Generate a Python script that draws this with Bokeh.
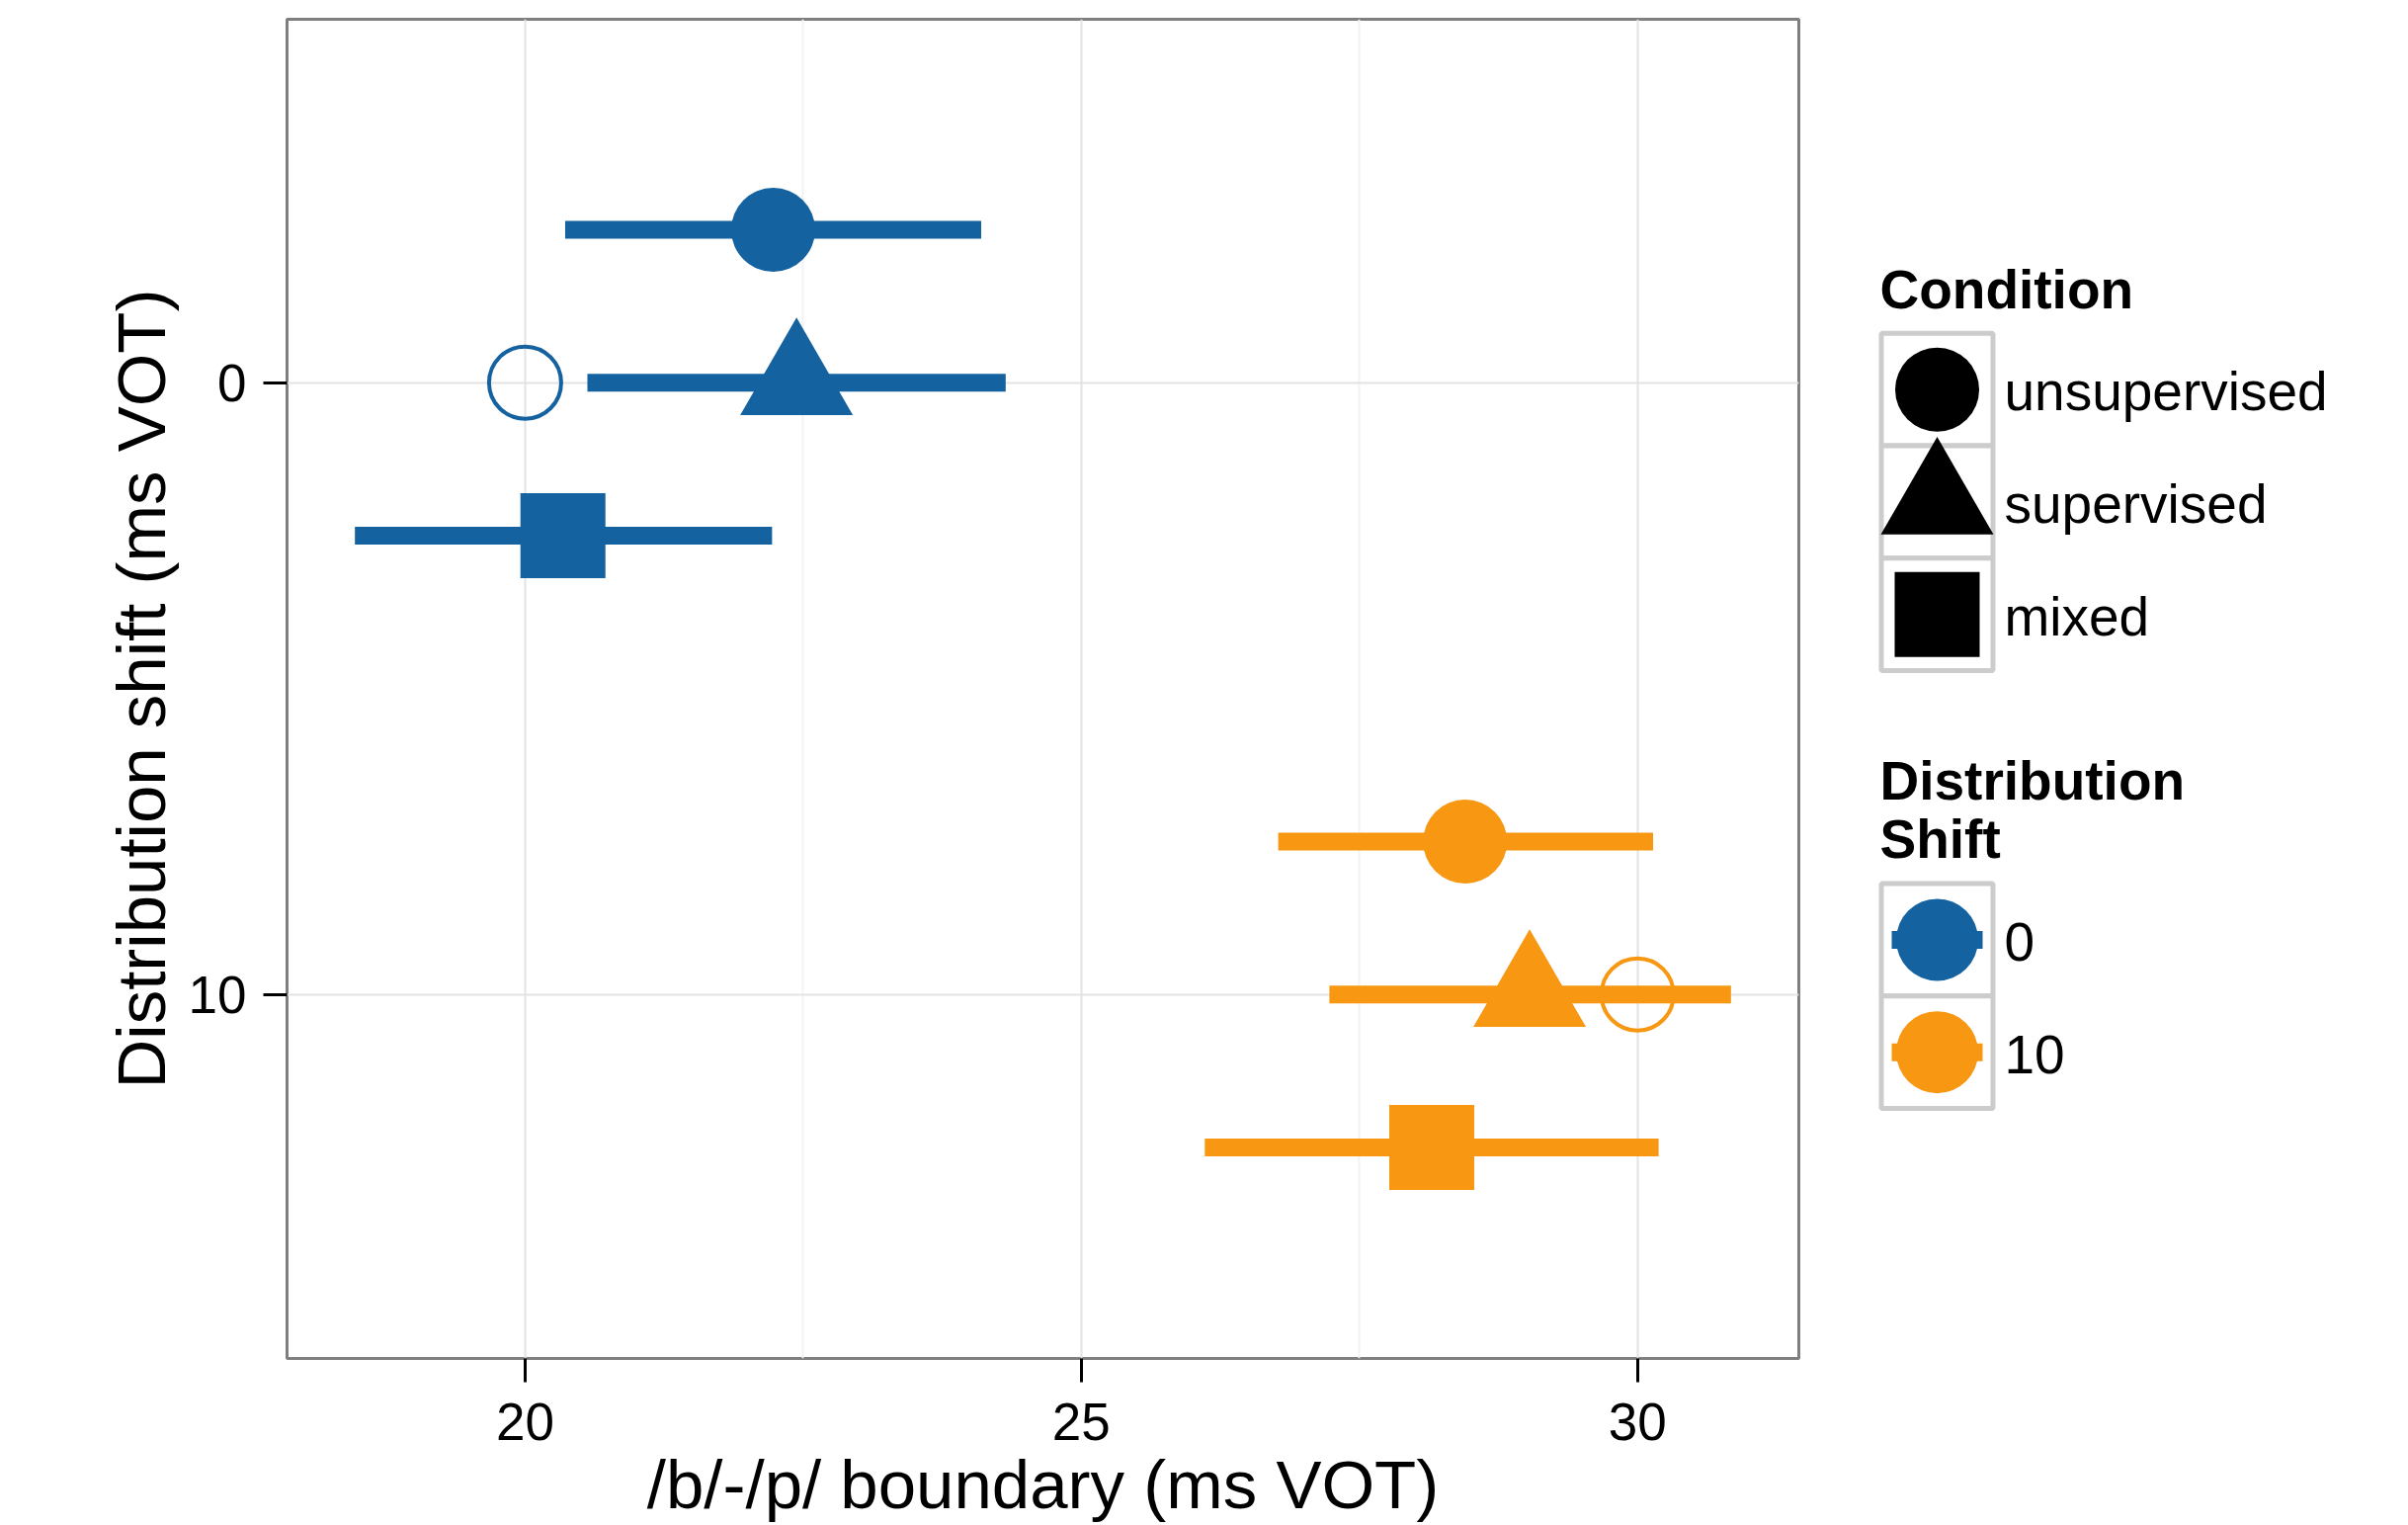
from bokeh.plotting import figure
from bokeh.models import Range1d, FixedTicker, ColumnDataSource
from bokeh.layouts import row
from bokeh.embed import file_html
from bokeh.resources import INLINE
from bokeh.core.properties import value

# ---------------- data ----------------
conditions = ["unsupervised", "supervised", "mixed"]
shift_levels = [0, 10]
mean_shift0 = [22.23, 22.44, 20.34]
lower_shift0 = [20.36, 20.56, 18.47]
upper_shift0 = [24.10, 24.32, 22.22]
mean_shift10 = [28.45, 29.03, 28.15]
lower_shift10 = [26.77, 27.23, 26.11]
upper_shift10 = [30.14, 30.84, 30.19]
true_boundary = [20, 30]
x_ticks = [20, 25, 30]
x_minor = [22.5, 27.5]
y_ticks = [0, 10]

# ---------------- styles ----------------
shift_colors = ["#1462A0", "#F79712"]
cond_markers = ["circle", "triangle", "square"]
cond_sizes = [85, 114, 86]
dodge_step = 2.5
FONT = "Liberation Sans"

means = [mean_shift0, mean_shift10]
lowers = [lower_shift0, lower_shift10]
uppers = [upper_shift0, upper_shift10]

src = dict(x=[], y=[], lo=[], hi=[], color=[], marker=[], size=[])
for si, s in enumerate(shift_levels):
    for ci, c in enumerate(conditions):
        yy = s + (ci - 1) * dodge_step
        src["x"].append(means[si][ci])
        src["y"].append(yy)
        src["lo"].append(lowers[si][ci])
        src["hi"].append(uppers[si][ci])
        src["color"].append(shift_colors[si])
        src["marker"].append(cond_markers[ci])
        src["size"].append(cond_sizes[ci])
source = ColumnDataSource(src)
true_src = ColumnDataSource(dict(x=true_boundary, y=shift_levels, color=shift_colors))

TOP = 19
BOTTOM_BORDER = 166
H = 1543

# ---------------- main plot ----------------
p = figure(width=1860, height=H,
           x_range=Range1d(17.86, 31.45), y_range=Range1d(15.95, -5.94),
           output_backend="svg", toolbar_location=None,
           min_border_left=290, min_border_right=40,
           min_border_top=TOP, min_border_bottom=BOTTOM_BORDER,
           background_fill_color="white", border_fill_color="white")

p.outline_line_color = "#7F7F7F"
p.outline_line_width = 3

p.xaxis.ticker = FixedTicker(ticks=x_ticks, minor_ticks=x_minor)
p.yaxis.ticker = FixedTicker(ticks=y_ticks, minor_ticks=[])
for ax in (p.xaxis[0], p.yaxis[0]):
    ax.axis_line_color = None
    ax.major_tick_line_color = "black"
    ax.major_tick_line_width = 3
    ax.major_tick_out = 24
    ax.major_tick_in = 0
    ax.minor_tick_line_color = None
    ax.major_label_text_font = FONT
    ax.major_label_text_font_size = "53px"
    ax.major_label_text_color = "black"
    ax.axis_label_text_font = FONT
    ax.axis_label_text_font_size = "69px"
    ax.axis_label_text_font_style = "normal"
    ax.axis_label_text_color = "black"

p.xaxis.axis_label = "/b/-/p/ boundary (ms VOT)"
p.yaxis.axis_label = "Distribution shift (ms VOT)"
p.xaxis.major_label_standoff = 21
p.xaxis.axis_label_standoff = 4
p.yaxis.major_label_standoff = 17
p.yaxis.axis_label_standoff = 6
p.yaxis.major_label_orientation = "horizontal"

p.xgrid.grid_line_color = "#E3E3E3"
p.xgrid.grid_line_width = 2
p.xgrid.minor_grid_line_color = "#F3F3F3"
p.xgrid.minor_grid_line_width = 2
p.ygrid.grid_line_color = "#E3E3E3"
p.ygrid.grid_line_width = 2

p.segment(x0="lo", y0="y", x1="hi", y1="y", source=source,
          line_color="color", line_width=18, line_cap="butt")
p.scatter(x="x", y="y", marker="marker", size="size", source=source,
          fill_color="color", line_color=None)
p.scatter(x="x", y="y", marker="circle", size=73, source=true_src,
          fill_color=None, line_color="color", line_width=4)

# ---------------- legend panel (coordinates = page pixels) ----------------
L = figure(width=577, height=H, x_range=Range1d(1860, 2437),
           y_range=Range1d(H - BOTTOM_BORDER, TOP),
           output_backend="svg", toolbar_location=None,
           x_axis_type=None, y_axis_type=None,
           min_border_left=0, min_border_right=0,
           min_border_top=TOP, min_border_bottom=BOTTOM_BORDER,
           background_fill_color="white", border_fill_color="white")
L.outline_line_color = None
L.grid.visible = False

key_x = 1960
key_w = 113
key_h = 114
label_x = 2028
cond_top = 337.5
shift_top = 895.5
text_shift = 18

cond_cy = [cond_top + key_h * (i + 0.5) for i in range(len(conditions))]
shift_cy = [shift_top + key_h * (i + 0.5) for i in range(len(shift_levels))]

L.rect(x=[key_x] * (len(cond_cy) + len(shift_cy)), y=cond_cy + shift_cy,
       width=key_w, height=key_h, fill_color="white",
       line_color="#CCCCCC", line_width=5)

L.scatter(x=[key_x] * len(conditions), y=cond_cy, marker=cond_markers,
          size=cond_sizes, fill_color="black", line_color=None)

L.segment(x0=[key_x - 46] * 2, y0=shift_cy, x1=[key_x + 46] * 2, y1=shift_cy,
          line_color=shift_colors, line_width=18, line_cap="butt")
L.scatter(x=[key_x] * 2, y=shift_cy, marker="circle", size=83,
          fill_color=shift_colors, line_color=None)

L.text(x=[label_x] * len(conditions), y=[c + 20 - text_shift for c in cond_cy], text=conditions,
       text_font=value(FONT), text_font_size="55px", text_color="black",
       text_baseline="alphabetic", text_align="left")
L.text(x=[label_x] * len(shift_levels), y=[c + 20 - text_shift for c in shift_cy],
       text=[str(s) for s in shift_levels],
       text_font=value(FONT), text_font_size="55px", text_color="black",
       text_baseline="alphabetic", text_align="left")

L.text(x=[1902, 1902, 1902], y=[311.5 - text_shift, 809 - text_shift, 868 - text_shift],
       text=["Condition", "Distribution", "Shift"],
       text_font=value(FONT), text_font_size="55px", text_font_style="bold",
       text_color="black", text_baseline="alphabetic", text_align="left")

layout = row(p, L, spacing=0)
open("out.html", "w").write(file_html(layout, INLINE))
